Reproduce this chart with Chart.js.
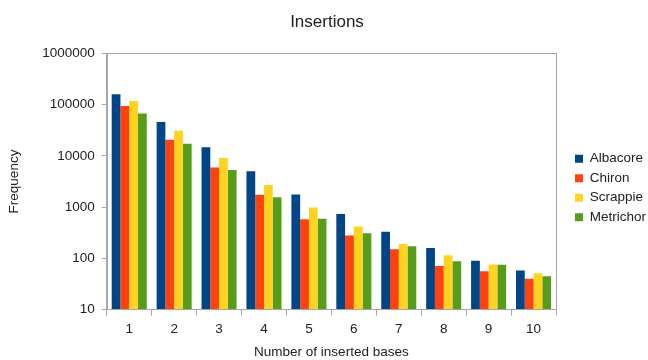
<!DOCTYPE html>
<html>
<head>
<meta charset="utf-8">
<script src="https://cdn.jsdelivr.net/npm/chart.js@4"></script>
<style>
  html, body { margin: 0; padding: 0; background: #fff; }
  #wrap { width: 648px; height: 360px; }
</style>
</head>
<body>
<div id="wrap"><canvas id="insertChart"></canvas></div>
<script>
// ===================
// Data
// ===================

const bases = ['1', '2', '3', '4', '5', '6', '7', '8', '9', '10'];
const albacore  = [160000, 46000, 14800, 5000, 1770, 730, 330, 160, 90, 58];
const chiron    = [94000, 20600, 5900, 1750, 580, 278, 150, 71, 56, 40];
const scrappie  = [118000, 31000, 9100, 2700, 985, 418, 191, 115, 76, 51];
const metrichor = [67000, 17200, 5300, 1550, 590, 309, 172, 88, 75, 45];
const yTicks = [10, 100, 1000, 10000, 100000, 1000000];

const axisGrey = '#a6a6a6';
Chart.defaults.font.family = '"Liberation Sans", Arial, sans-serif';
Chart.defaults.color = '#222';

// frame round the plot area
const frame = {
	id: 'frame',
	afterDraw(chart) {
		const a = chart.chartArea, c = chart.ctx;
		c.save();
		c.strokeStyle = axisGrey;
		c.lineWidth = 1;
		c.strokeRect(Math.round(a.left) + 0.5, Math.round(a.top) + 0.5,
			Math.round(a.right - a.left), Math.round(a.bottom - a.top));
		c.restore();
	}
};

// legend: fixed width, items pushed a bit away from the plot
const legendSpot = {
	id: 'legendSpot',
	beforeLayout(chart) {
		const lg = chart.legend;
		if (lg && !lg._spotted) {
			const fit = lg.fit.bind(lg);
			lg.fit = function () { fit(); this.width = 92; };
			lg._spotted = true;
		}
	},
	afterLayout(chart) {
		const lg = chart.legend;
		if (lg) { lg.left += 13; lg.top += 2; lg.bottom += 2; }
	}
};

var ctx = document.getElementById('insertChart').getContext('2d');
var chart = new Chart(ctx, {
    type: 'bar',
    data: {
        labels: bases,
        datasets: [
            { label: 'Albacore',  data: albacore,  backgroundColor: '#004586' },
            { label: 'Chiron',    data: chiron,    backgroundColor: '#ff420e' },
            { label: 'Scrappie',  data: scrappie,  backgroundColor: '#ffd320' },
            { label: 'Metrichor', data: metrichor, backgroundColor: '#579d1c' }
        ]
    },
    options: {
        responsive: true,
        maintainAspectRatio: false,
        animation: false,
        datasets: { bar: { categoryPercentage: 0.78, barPercentage: 1 } },
        layout: { padding: { left: 6, right: 0, top: 12, bottom: 0 } },
        plugins: {
            title: {
                display: true,
                text: 'Insertions',
                font: { size: 17, weight: 'normal' },
                padding: { top: 0, bottom: 21 }
            },
            legend: {
                position: 'right',
                labels: { boxWidth: 8, boxHeight: 8, padding: 6, font: { size: 13.5 } }
            },
            tooltip: { enabled: false }
        },
        scales: {
            x: {
                grid: { offset: true, drawOnChartArea: false, tickLength: 6, color: axisGrey },
                border: { color: axisGrey },
                ticks: { font: { size: 13.5 }, padding: 6 },
                title: { display: true, text: 'Number of inserted bases', font: { size: 13.5 }, padding: { top: 0, bottom: 0 } }
            },
            y: {
                type: 'logarithmic',
                min: 10,
                max: 1000000,
                afterBuildTicks: function (scale) {
                    scale.ticks = yTicks.map(v => ({ value: v }));
                },
                grid: { drawOnChartArea: false, tickLength: 5, color: axisGrey },
                border: { color: axisGrey },
                ticks: { font: { size: 13.5 }, padding: 7, callback: v => String(v) },
                title: { display: true, text: 'Frequency', font: { size: 13.5 }, padding: { top: 0, bottom: 13 } }
            }
        }
    },
    plugins: [frame, legendSpot]
});
</script>
</body>
</html>
